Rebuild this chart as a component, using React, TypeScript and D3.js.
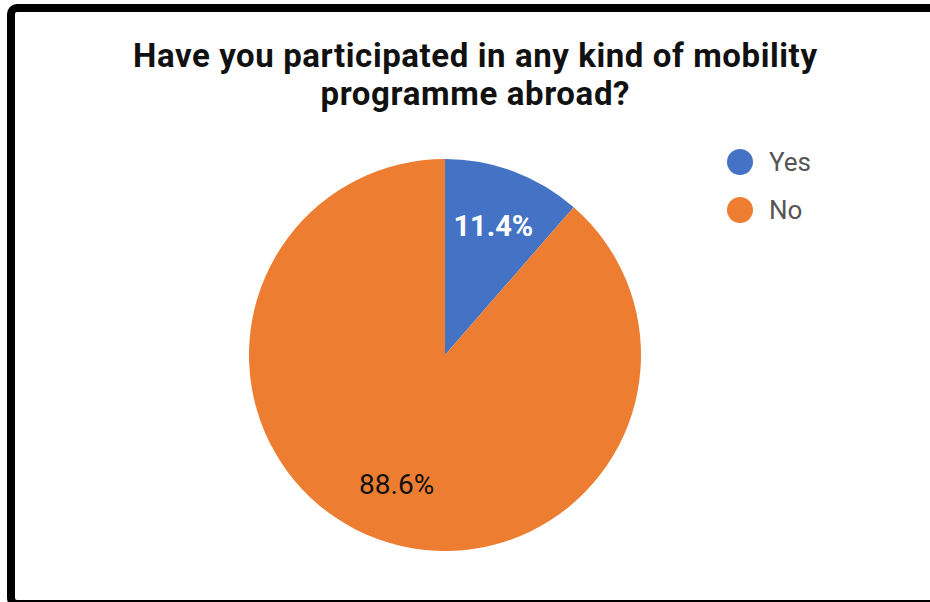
import React from "react";
import * as d3 from "d3";

const categories = ["Yes", "No"];
const values = [11.4, 88.6];
const colors = ["#4472C4", "#ED7D31"];
const labelColors = ["#ffffff", "#111111"];
const titleLines = ["Have you participated in any kind of mobility", "programme abroad?"];

export default function App() {
  const W = 930, H = 602;
  const cx = 445, cy = 355, R = 196;
  const pie = d3.pie<number>().sort(null).value((d) => d)(values);
  const arc = d3.arc<d3.PieArcDatum<number>>().innerRadius(0).outerRadius(R);
  const labelArc = d3.arc<d3.PieArcDatum<number>>().innerRadius(138).outerRadius(138);
  const legendY = d3.scalePoint<string>().domain(categories).range([162, 210]);
  return (
    <svg width={W} height={H} style={{ position: "absolute", left: 0, top: 0, background: "#fff" }}>
      <rect x={11} y={8} width={W + 20} height={H - 6} rx={6} fill="#fff" stroke="#000" strokeWidth={8} />
      <g fontFamily="Roboto" fontWeight="bold" fontSize={33} fill="#111" textAnchor="middle">
        {titleLines.map((t, i) => (
          <text key={i} x={475} y={67 + i * 38} textLength={i === 0 ? 684 : 309}>{t}</text>
        ))}
      </g>
      <g transform={`translate(${cx},${cy})`}>
        {pie.map((p, i) => (
          <path key={i} d={arc(p) || ""} fill={colors[i]} />
        ))}
        {pie.map((p, i) => {
          const [x, y] = labelArc.centroid(p);
          return (
            <text key={"l" + i} x={x} y={y} dy="0.35em" textAnchor="middle" fontFamily="Roboto"
              fontSize={i === 0 ? 29 : 28} fontWeight={i === 0 ? "bold" : "normal"} fill={labelColors[i]}>
              {values[i].toFixed(1)}%
            </text>
          );
        })}
      </g>
      <g>
        {categories.map((c, i) => (
          <g key={c} transform={`translate(740,${legendY(c)})`}>
            <circle r={13} fill={colors[i]} />
            <text x={29} dy="0.33em" fontFamily="Roboto" fontSize={26} fill="#555">{c}</text>
          </g>
        ))}
      </g>
    </svg>
  );
}
